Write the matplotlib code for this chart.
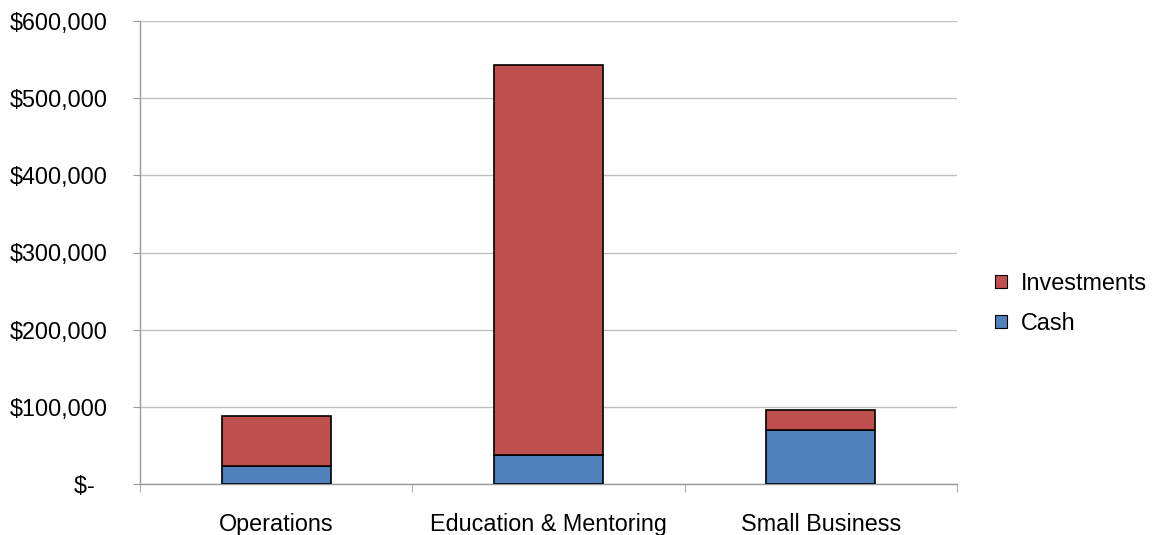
import matplotlib
matplotlib.use("Agg")
import matplotlib.pyplot as plt
import numpy as np
from matplotlib.patches import Patch

categories = ["Operations", "Education & Mentoring", "Small Business"]
cash = [23300, 37200, 70000]
investments = [64800, 506100, 25900]
yticks = [0, 100000, 200000, 300000, 400000, 500000, 600000]
ytick_labels = ["$-  ", "$100,000", "$200,000", "$300,000", "$400,000", "$500,000", "$600,000"]

plt.rcParams['font.family'] = ['Liberation Sans', 'DejaVu Sans']
FS = 16.8
fig = plt.figure(figsize=(11.57, 5.35), dpi=100)
ax = fig.add_axes([140/1157, 1-484/535, (957-140)/1157, (484-21)/535])

x = np.arange(len(categories))
w = 0.4
ax.bar(x, cash, width=w, color="#4F81BD", edgecolor="black", linewidth=1.2, zorder=3)
ax.bar(x, investments, bottom=cash, width=w, color="#C0504D", edgecolor="black", linewidth=1.2, zorder=3)

ax.set_xlim(-0.5, 2.5)
ax.set_ylim(0, 600000)
ax.set_yticks(yticks)
ax.set_yticklabels(ytick_labels, fontsize=FS)
ax.yaxis.grid(True, color="#BFBFBF", linewidth=1, zorder=0)
ax.set_axisbelow(True)

ax.set_xticks(x)
ax.set_xticklabels(categories, fontsize=FS)
ax.tick_params(axis='x', length=0, pad=21)
ax.set_xticks([-0.5, 0.5, 1.5, 2.5], minor=True)
ax.tick_params(axis='x', which='minor', length=6, color="#999999", direction='out')
ax.tick_params(axis='y', length=5, color="#999999", direction='out', pad=18)

for s in ["top", "right"]:
    ax.spines[s].set_visible(False)
for s in ["left", "bottom"]:
    ax.spines[s].set_color("#999999")
    ax.spines[s].set_linewidth(1)

handles = [Patch(facecolor="#C0504D", edgecolor="black", linewidth=0.8, label="Investments"),
           Patch(facecolor="#4F81BD", edgecolor="black", linewidth=0.8, label="Cash")]
fig.legend(handles=handles, loc="center left", bbox_to_anchor=(995/1157, 1-303.5/535),
           frameon=False, fontsize=FS, handlelength=0.51, handleheight=0.5,
           handletextpad=0.6, labelspacing=0.72, borderpad=0, borderaxespad=0)

fig.savefig("out.png", dpi=100)
